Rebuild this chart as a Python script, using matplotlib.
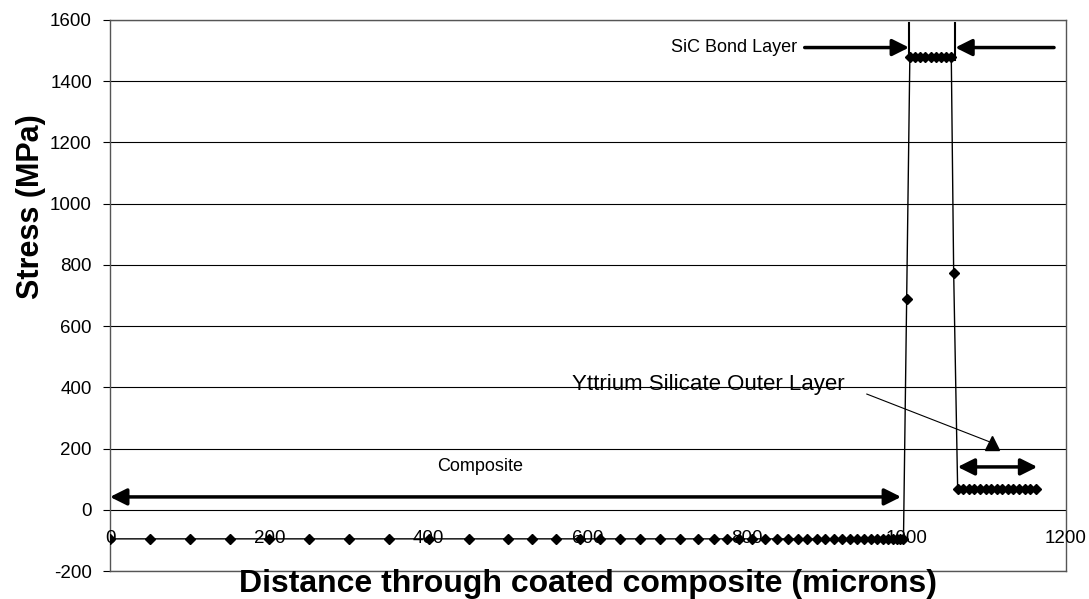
import numpy as np
import matplotlib.pyplot as plt

plt.rcParams['font.family'] = ['Liberation Sans', 'DejaVu Sans']
plt.rcParams['axes.unicode_minus'] = False

# data (distance in microns, stress in MPa)
composite_x = [0, 50, 100, 150, 200, 250, 300, 350, 400, 450, 500, 530, 560,
               590, 615, 640, 665, 690, 715, 738, 758, 775, 790, 806, 822, 837,
               851, 863, 875, 887, 898, 909, 919, 929, 938, 947, 955, 963, 970,
               977, 983, 988, 992, 996]
composite_y = [-95] * len(composite_x)
transition_x = [1000]
transition_y = [690]
bond_x = [1004, 1010.5, 1017, 1023.5, 1030, 1036.5, 1043, 1049.5, 1056]
bond_y = [1480] * len(bond_x)
transition2_x = [1059]
transition2_y = [775]
outer_x = [1064, 1071, 1078, 1085, 1092, 1099, 1106, 1113, 1120, 1127, 1134,
           1141, 1148, 1155, 1162]
outer_y = [68] * len(outer_x)

x = composite_x + transition_x + bond_x + transition2_x + outer_x
y = composite_y + transition_y + bond_y + transition2_y + outer_y

xticks = [0, 200, 400, 600, 800, 1000, 1200]
yticks = [-200, 0, 200, 400, 600, 800, 1000, 1200, 1400, 1600]

fig = plt.figure(figsize=(10.89, 5.99), dpi=100)
ax = fig.add_axes([110 / 1089, 28 / 599, 956 / 1089, 551 / 599])

ax.plot(x, y, color="black", lw=1.0, marker="D", ms=5, mfc="black",
        mec="black", zorder=3)

ax.set_xlim(0, 1200)
ax.set_ylim(-200, 1600)
ax.set_yticks(yticks)
ax.set_xticks(xticks)
ax.set_xticklabels([])
ax.tick_params(axis="x", length=0)
ax.tick_params(axis="y", direction="out", length=5, labelsize=13.5, pad=8)
ax.grid(axis="y", color="black", lw=0.8)
for s in ax.spines.values():
  s.set_color("#555555")
  s.set_linewidth(1.0)

# x tick labels sit on the data line, like the original
for t in xticks:
  ax.text(t, -95, str(t), ha="center", va="center", fontsize=13.5, zorder=4)

fig.text(31 / 1089, 1 - 207 / 599, "Stress (MPa)", rotation=90, ha="center",
         va="center", fontsize=22, fontweight="bold")
fig.text(588 / 1089, 1 - 584 / 599,
         "Distance through coated composite (microns)",
         ha="center", va="center", fontsize=23, fontweight="bold")

arrow = dict(arrowstyle="-|>,head_length=1.0,head_width=0.5", color="black",
             lw=2.5, shrinkA=0, shrinkB=0)
darrow = dict(arrowstyle="<|-|>,head_length=1.0,head_width=0.5",
              color="black", lw=2.5, shrinkA=0, shrinkB=0)

# composite
ax.annotate("", xy=(0, 42), xytext=(993, 42), arrowprops=darrow)
ax.text(464, 140, "Composite", ha="center", va="center", fontsize=13)

# SiC bond layer
ax.plot([1003, 1003], [1470, 1590], color="black", lw=1.5)
ax.plot([1061, 1061], [1470, 1590], color="black", lw=1.5)
ax.annotate("", xy=(1003, 1510), xytext=(872, 1510), arrowprops=arrow)
ax.annotate("", xy=(1061, 1510), xytext=(1185, 1510), arrowprops=arrow)
ax.text(783, 1510, "SiC Bond Layer", ha="center", va="center", fontsize=13)

# yttrium silicate outer layer
ax.annotate("", xy=(1064, 140), xytext=(1164, 140), arrowprops=darrow)
ax.text(751, 410, "Yttrium Silicate Outer Layer", ha="center", va="center",
        fontsize=16)
ax.plot([950, 1107], [378, 219], color="black", lw=0.8)
ax.plot([1107], [219], marker="^", ms=10, color="black")

fig.savefig("out.png", dpi=100)
